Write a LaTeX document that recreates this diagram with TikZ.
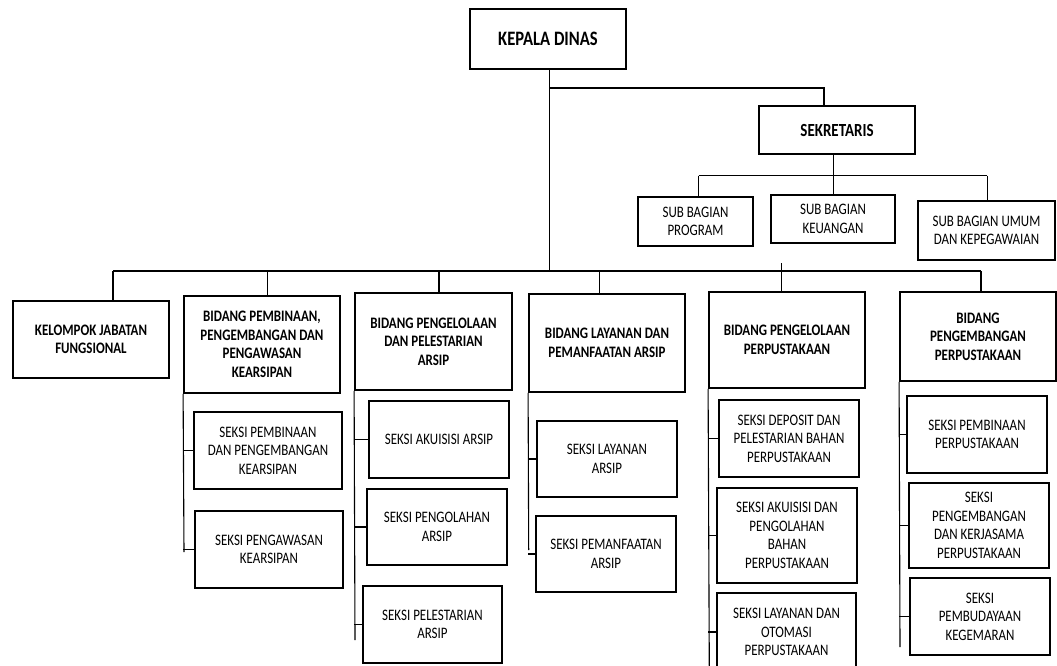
\documentclass[tikz,border=0pt]{standalone}
\usepackage{fontspec}
\setmainfont{Carlito}[FakeStretch=0.81]
\begin{document}
\begin{tikzpicture}[x=1pt,y=-1pt,
  box/.style={draw=black,line width=1.8pt,fill=white,align=center,inner sep=2pt,
    font=\fontsize{16}{18.5}\selectfont},
  bbox/.style={box,font=\fontsize{16}{18.5}\selectfont\bfseries},
  link/.style={draw=black,line width=1.1pt}]
\useasboundingbox[fill=white] (0,0) rectangle (1057,665);

% top level
\node[bbox,minimum width=156,minimum height=60,font=\fontsize{20.5}{24}\selectfont\bfseries] (kd) at (548,39) {KEPALA DINAS};
\node[bbox,minimum width=156,minimum height=48,font=\fontsize{18.5}{22}\selectfont\bfseries] (sek) at (837,130) {SEKRETARIS};
\node[box,minimum width=115,minimum height=49] (sbp) at (695.5,221.5) {SUB BAGIAN\\PROGRAM};
\node[box,minimum width=124,minimum height=48] (sbk) at (833,219) {SUB BAGIAN\\KEUANGAN};
\node[box,minimum width=137,minimum height=59] (sbu) at (986.5,230.5) {SUB BAGIAN UMUM\\DAN KEPEGAWAIAN};

% bidang
\node[bbox,minimum width=156,minimum height=77] (kjf) at (91,339.5) {KELOMPOK JABATAN\\FUNGSIONAL};
\node[bbox,minimum width=156,minimum height=97] (b1) at (262,344.5) {BIDANG PEMBINAAN,\\PENGEMBANGAN DAN\\PENGAWASAN\\KEARSIPAN};
\node[bbox,minimum width=157,minimum height=97] (b2) at (433.5,341.5) {BIDANG PENGELOLAAN\\DAN PELESTARIAN\\ARSIP};
\node[bbox,minimum width=156,minimum height=98] (b3) at (607,343) {BIDANG LAYANAN DAN\\PEMANFAATAN ARSIP};
\node[bbox,minimum width=156,minimum height=96] (b4) at (787,340) {BIDANG PENGELOLAAN\\PERPUSTAKAAN};
\node[bbox,minimum width=156,minimum height=89] (b5) at (978,336.5) {BIDANG\\PENGEMBANGAN\\PERPUSTAKAAN};

% seksi
\node[box,minimum width=148,minimum height=77] (s11) at (268,450.5) {SEKSI PEMBINAAN\\DAN PENGEMBANGAN\\KEARSIPAN};
\node[box,minimum width=148,minimum height=77] (s12) at (269,549.5) {SEKSI PENGAWASAN\\KEARSIPAN};
\node[box,minimum width=140,minimum height=77] (s21) at (439,439.5) {SEKSI AKUISISI ARSIP};
\node[box,minimum width=140,minimum height=76] (s22) at (437,527) {SEKSI PENGOLAHAN\\ARSIP};
\node[box,minimum width=139,minimum height=77] (s23) at (432.5,624.5) {SEKSI PELESTARIAN\\ARSIP};
\node[box,minimum width=140,minimum height=76] (s31) at (607,459) {SEKSI LAYANAN\\ARSIP};
\node[box,minimum width=140,minimum height=76] (s32) at (606,554) {SEKSI PEMANFAATAN\\ARSIP};
\node[box,minimum width=140,minimum height=77] (s41) at (789,438.5) {SEKSI DEPOSIT DAN\\PELESTARIAN BAHAN\\PERPUSTAKAAN};
\node[box,minimum width=140,minimum height=95] (s42) at (787,535.5) {SEKSI AKUISISI DAN\\PENGOLAHAN\\BAHAN\\PERPUSTAKAAN};
\node[box,minimum width=139,minimum height=78] (s43) at (786.5,632) {SEKSI LAYANAN DAN\\OTOMASI\\PERPUSTAKAAN};
\node[box,minimum width=140,minimum height=77] (s51) at (977,434.5) {SEKSI PEMBINAAN\\PERPUSTAKAAN};
\node[box,minimum width=140,minimum height=85] (s52) at (979,525.5) {SEKSI\\PENGEMBANGAN\\DAN KERJASAMA\\PERPUSTAKAAN};
\node[box,minimum width=140,minimum height=77] (s53) at (980,616.5) {SEKSI\\PEMBUDAYAAN\\KEGEMARAN};

% coordinates
\coordinate (kdx) at (549.6,69);
\coordinate (busL) at (113,271);
\coordinate (busR) at (981,271);
\coordinate (bus) at (549.6,271);
\coordinate (sekj) at (549.6,88);
\coordinate (sekd) at (824,88);
\coordinate (subL) at (698.6,175.7);
\coordinate (subR) at (987.2,175.7);
\coordinate (subM) at (833.5,175.7);
\coordinate (d1) at (267.7,271);
\coordinate (d2) at (439,271);
\coordinate (d3) at (599.5,271);
\coordinate (d4) at (781.5,263);
\coordinate (e1) at (184,552);
\coordinate (e2) at (355,640);
\coordinate (e3) at (528.7,550);
\coordinate (e4) at (709.3,668);
\coordinate (e5) at (900,647);

% top connectors
\draw[link] (kdx) -- (bus);
\draw[link] (sekj) -- (sekd) -- (sekd |- sek.north);
\draw[link] (subM |- sek.south) -- (subM |- sbk.north);
\draw[link] (subL) -- (subR);
\draw[link] (subL) -- (subL |- sbp.north);
\draw[link] (subR) -- (subR |- sbu.north);
\draw[link] (busL) -- (busR);
\draw[link] (busL) -- (busL |- kjf.north);
\draw[link] (d1) -- (d1 |- b1.north);
\draw[link] (d2) -- (d2 |- b2.north);
\draw[link] (d3) -- (d3 |- b3.north);
\draw[link] (d4) -- (d4 |- b4.north);
\draw[link] (busR) -- (busR |- b5.north);

% spines
\draw[link] (b1.south west) -- (e1);
\draw[link] (s11.west) -- (s11.west -| b1.south west);
\draw[link] (s12.west) -- (s12.west -| b1.south west);
\draw[link] (b2.south west) -- (e2);
\draw[link] (s21.west) -- (s21.west -| b2.south west);
\draw[link] (s22.west) -- (s22.west -| b2.south west);
\draw[link] (s23.west) -- (s23.west -| b2.south west);
\draw[link] (b3.south west) -- (e3);
\draw[link] (s31.west) -- (s31.west -| b3.south west);
\draw[link] (s32.west) -- (s32.west -| b3.south west);
\draw[link] (b4.south west) -- (e4);
\draw[link] (s41.west) -- (s41.west -| b4.south west);
\draw[link] (s42.west) -- (s42.west -| b4.south west);
\draw[link] (s43.west) -- (s43.west -| b4.south west);
\draw[link] (b5.south west) -- (e5);
\draw[link] (s51.west) -- (s51.west -| b5.south west);
\draw[link] (s52.west) -- (s52.west -| b5.south west);
\draw[link] (s53.west) -- (s53.west -| b5.south west);
\end{tikzpicture}
\end{document}
